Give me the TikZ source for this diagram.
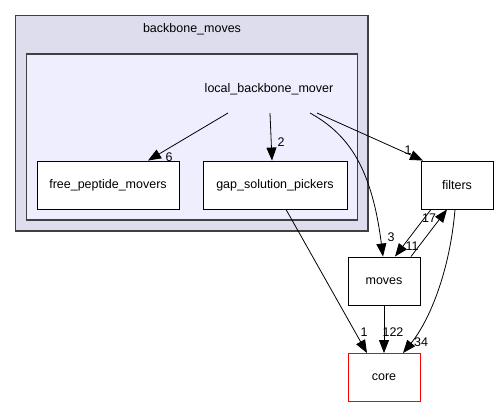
\documentclass[tikz,border=0pt]{standalone}
\usepackage{fontspec}
\setmainfont{Liberation Sans}
\usetikzlibrary{arrows.meta}
\definecolor{outerfill}{HTML}{DDDDEE}
\definecolor{innerfill}{HTML}{EEEEFF}
\definecolor{clusterdraw}{HTML}{404040}
\definecolor{corered}{HTML}{FF0000}
\begin{document}
\begin{tikzpicture}[x=1pt,y=-1pt,
  every node/.style={font=\fontsize{12.5}{14}\selectfont},
  dirbox/.style={draw=black, fill=white, line width=0.9pt, minimum width=#1, minimum height=48pt, inner sep=0pt},
  dirbox/.default=72pt,
  dep/.style={-{Triangle[length=13pt,width=10pt]}, line width=0.8pt, black},
  elabel/.style={font=\fontsize{12.5}{14}\selectfont, inner sep=0pt}
]
\useasboundingbox (0,0) rectangle (499,407);
% clusters
\draw[clusterdraw, fill=outerfill, line width=1.3pt] (15.5,15.5) rectangle (368,231);
\node (bmlabel) at (192,29) {backbone\_moves};
\draw[clusterdraw, fill=innerfill, line width=1.3pt] (26.5,54) rectangle (357.5,220);
\node (lbm) at (269,89) {local\_backbone\_mover};
\coordinate (lbmA) at (228,113);
\coordinate (lbmB) at (270,113);
\coordinate (lbmC) at (310,113);
\coordinate (lbmD) at (317,113);
% nodes
\node[dirbox=142pt] (fpm) at (108,185) {free\_peptide\_movers};
\node[dirbox=144pt] (gsp) at (275,185) {gap\_solution\_pickers};
\node[dirbox] (filters) at (457,185) {filters};
\node[dirbox] (moves) at (384,281) {moves};
\node[dirbox, draw=corered] (core) at (384,377.5) {core};
% edges
\draw[dep] (lbmA) -- (fpm.north -| 148,0);
\node[elabel] (l6) at (169,157) {6};
\draw[dep] (lbmB) -- (gsp.north -| 272,0);
\node[elabel] (l2) at (281,142) {2};
\draw[dep] (lbmD) -- (filters.north -| 423,0);
\node[elabel] (l1a) at (408,150) {1};
\draw[dep] (lbmC) .. controls (350,135) and (372,170) .. (moves.north -| 383,0);
\node[elabel] (l3) at (391,237) {3};
\draw[dep] (gsp.south -| 286,0) -- (core.north -| 367,0);
\node[elabel] (l1b) at (364,332) {1};
\draw[dep] (moves) -- (core);
\node[elabel] (l122) at (393,332) {122};
\draw[dep] (filters.south -| 455,0) .. controls (450,270) and (430,320) .. (core.north -| 403,0);
\node[elabel] (l34) at (421,342) {34};
\draw[dep] (filters.south -| 431,0) -- (moves.north -| 395,0);
\node[elabel] (l11) at (412,246) {11};
\draw[dep] (moves.north -| 411,0) -- (filters.south -| 447,0);
\node[elabel] (l17) at (429,218) {17};
\end{tikzpicture}
\end{document}
